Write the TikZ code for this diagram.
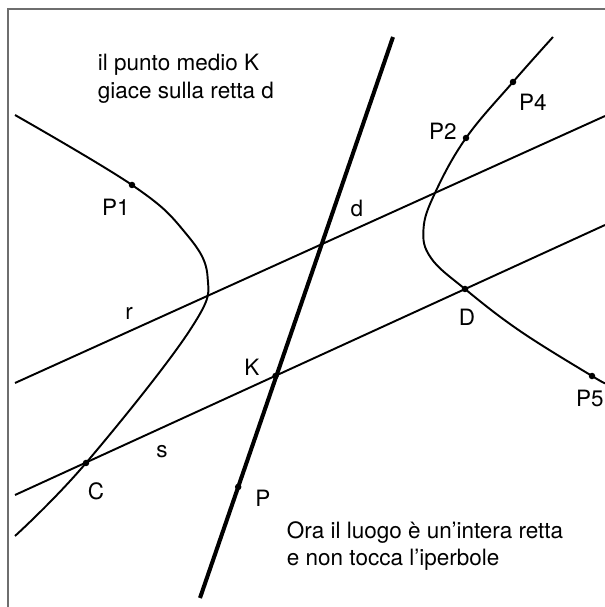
\documentclass[tikz,border=0pt]{standalone}
\usepackage{fontspec}
\setmainfont{TeX Gyre Heros}
\usetikzlibrary{calc}

\begin{document}
\begin{tikzpicture}[line width=1.1pt,
		etichetta/.style={font=\fontsize{12.8}{15.5}\selectfont, inner sep=1pt},
		testo/.style={font=\fontsize{12.8}{15.5}\selectfont, align=left, anchor=north west, inner sep=0pt}]
		% Colour of the frame
		\definecolor{cornice}{RGB}{110, 110, 110}
		\def\rp{0.065} % radius of the points
		
		\useasboundingbox (0,0) rectangle (12.1,12.14);
		
		% --- Frame ---
		% only the left and the top side are shown
		\draw[cornice, line width=0.7pt] (0.16,0) -- (0.16,11.96) -- (12.1,11.96);
		
		% --- Points ---
		\coordinate (P1) at (2.64, 8.44);
		\coordinate (P2) at (9.32, 9.38);
		\coordinate (P4) at (10.26, 10.50);
		\coordinate (P5) at (11.84, 4.62);
		\coordinate (C) at (1.72, 2.88);
		\coordinate (D) at (9.30, 6.36);
		\coordinate (K) at ($(C)!0.5!(D)$); % midpoint of CD
		% ends of the lines
		\coordinate (rA) at (0.30, 4.48);
		\coordinate (rB) at (12.10, 9.82);
		\coordinate (sA) at (0.30, 2.24);
		\coordinate (sB) at (12.10, 7.64);
		\coordinate (dA) at (4.00, 0.18);
		\coordinate (dB) at (7.86, 11.40);
		\coordinate (P) at ($(dA)!0.198!(dB)$);
		
		% --- Hyperbola ---
		% left branch
		\draw plot[smooth, tension=0.65] coordinates {(0.30,9.84) (P1) (3.66,7.54) (4.15,6.62) (3.80,5.54) (C) (0.30,1.42)};
		% right branch
		\draw plot[smooth, tension=0.65] coordinates {(11.06,11.40) (P4) (P2) (8.70,8.28) (8.47,7.56) (8.62,6.98) (D) (10.40,5.52) (P5) (12.10,4.48)};
		
		% --- Lines ---
		\draw (rA) -- (rB);
		\draw (sA) -- (sB);
		\draw[line width=2.3pt] (dA) -- (dB);
		
		% --- Dots ---
		\foreach \p in {P1,P2,P4,P5,C,D,K,P}
			\fill (\p) circle (\rp);
		
		% --- Labels ---
		\node[etichetta] (lP1) at (2.32, 8.00) {P1};
		\node[etichetta] (lP2) at (8.86, 9.52) {P2};
		\node[etichetta] (lP4) at (10.66, 10.10) {P4};
		\node[etichetta] (lP5) at (11.80, 4.18) {P5};
		\node[etichetta] (ld) at (7.14, 7.98) {d};
		\node[etichetta] (lr) at (2.58, 5.88) {r};
		\node[etichetta] (ls) at (3.24, 3.10) {s};
		\node[etichetta] (lK) at (5.04, 4.80) {K};
		\node[etichetta] (lC) at (1.92, 2.32) {C};
		\node[etichetta] (lD) at (9.34, 5.80) {D};
		\node[etichetta] (lP) at (5.26, 2.18) {P};
		
		% --- Texts ---
		\node[testo] (nota1) at (1.94, 11.07) {il punto medio K\\giace sulla retta d};
		\node[testo] (nota2) at (5.72, 1.73) {Ora il luogo è un’intera retta\\e non tocca l’iperbole};
		
	\end{tikzpicture}
\end{document}
